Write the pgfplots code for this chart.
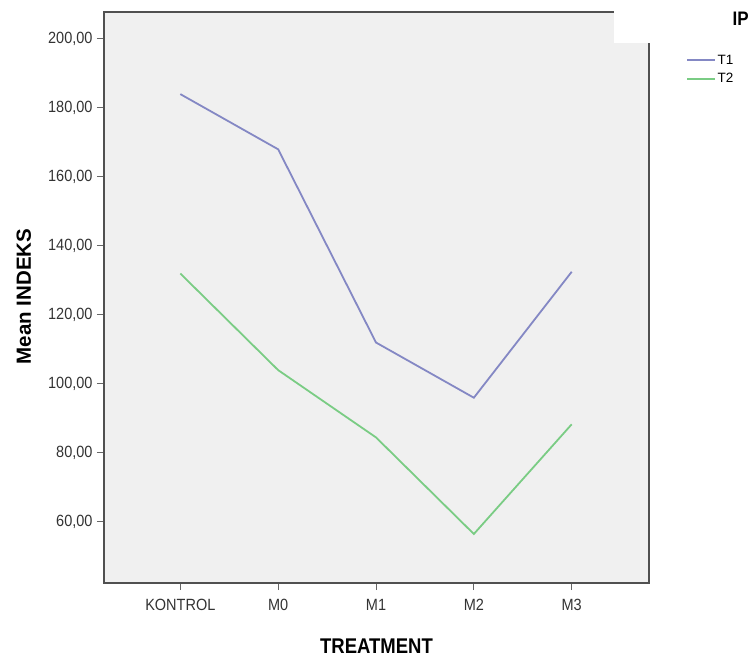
\documentclass[border=0pt]{standalone}
\usepackage{pgfplots}
\pgfplotsset{compat=1.18}
\usepackage{fontspec}
\setmainfont{Liberation Sans}
\definecolor{tone}{RGB}{132,136,196}
\definecolor{ttwo}{RGB}{122,204,132}
\definecolor{bggray}{RGB}{240,240,240}
\definecolor{axgray}{RGB}{80,80,80}
\begin{document}
\begin{tikzpicture}
\useasboundingbox (-104bp,-74bp) rectangle (645bp,583bp);
\begin{axis}[
  at={(0,0)}, anchor=south west,
  scale only axis, width=545bp, height=571bp,
  xmin=-0.78, xmax=4.79, ymin=42.3, ymax=207.8,
  axis background/.style={fill=bggray},
  axis line style={axgray, line width=1.3bp},
  xtick={0,1,2,3,4},
  xticklabels={KONTROL,M0,M1,M2,M3},
  ytick={60,80,100,120,140,160,180,200},
  xtick pos=bottom, ytick pos=left,
  tick align=outside,
  major tick length=7bp,
  tick style={black!60, line width=1bp},
  /pgf/number format/.cd, fixed, fixed zerofill, precision=2, use comma, 1000 sep={}, assume math mode=true,
  /pgfplots/.cd,
  ticklabel style={font=\fontsize{14.5bp}{16bp}\selectfont, text=black!80, yscale=1.12},
  yticklabel style={xshift=-1bp},
  xticklabel style={yshift=-5bp},
  xlabel={\textbf{TREATMENT}},
  ylabel={\textbf{Mean INDEKS}},
  xlabel style={at={(axis description cs:0.50,-0.111)}, anchor=center, font=\fontsize{18.5bp}{20bp}\selectfont, yscale=1.15},
  ylabel style={at={(axis description cs:-0.147,0.502)}, anchor=center, font=\fontsize{20.5bp}{22bp}\selectfont},
  legend style={at={(rel axis cs:1.068,0.929)}, anchor=north west, draw=none, fill=none,
    font=\fontsize{13.5bp}{15bp}\selectfont, row sep=4bp, inner sep=0pt},
  legend cell align=left,
  legend image code/.code={\draw[#1, line width=1.5bp] (0bp,0bp) -- (28bp,0bp);},
]
\addplot[tone, line width=1.8bp] coordinates {(0,184) (1,168) (2,112) (3,96) (4,132.5)};
\addlegendentry{T1}
\addplot[ttwo, line width=1.8bp] coordinates {(0,132) (1,104) (2,84.5) (3,56.5) (4,88.3)};
\addlegendentry{T2}
\end{axis}
\fill[white] (510bp,540bp) rectangle (622bp,573bp);
\node[font=\bfseries\fontsize{17bp}{19bp}\selectfont, anchor=east, yscale=1.15, inner sep=0pt] at (645bp,564bp) {IP};
\end{tikzpicture}
\end{document}
